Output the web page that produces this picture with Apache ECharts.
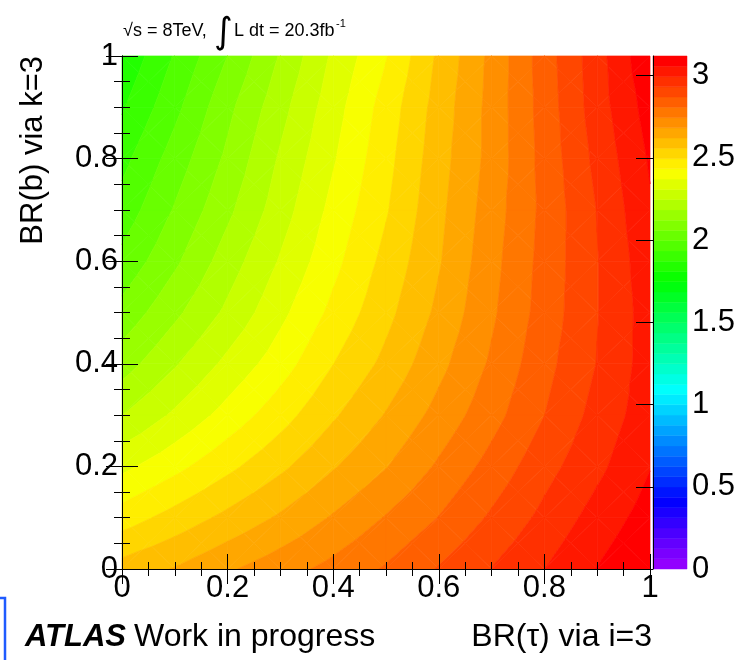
<!DOCTYPE html>
<html>
<head>
<meta charset="utf-8">
<script src="https://cdn.jsdelivr.net/npm/echarts@6/dist/echarts.min.js"></script>
<style>
  html, body { margin: 0; padding: 0; background: #ffffff; }
  #chart { width: 749px; height: 660px; }
</style>
</head>
<body>
<div id="chart"></div>
<script>
// Grid nodes of the scan: BR(tau) along x, BR(b) along y
const brTau = [0, 0.1, 0.2, 0.3, 0.4, 0.5, 0.6, 0.7, 0.8, 0.9, 1];
const brB   = [0, 0.1, 0.2, 0.3, 0.4, 0.5, 0.6, 0.7, 0.8, 0.9, 1];

// z value at each node, one row per BR(b) value (bottom row first)
const zRow00 = [2.585, 2.625, 2.675, 2.720, 2.765, 2.815, 2.875, 2.935, 2.995, 3.060, 3.120];
const zRow01 = [2.465, 2.520, 2.575, 2.630, 2.690, 2.750, 2.810, 2.880, 2.950, 3.020, 3.085];
const zRow02 = [2.355, 2.415, 2.480, 2.545, 2.615, 2.680, 2.755, 2.830, 2.910, 2.980, 3.055];
const zRow03 = [2.245, 2.320, 2.395, 2.470, 2.550, 2.625, 2.705, 2.785, 2.870, 2.955, 3.030];
const zRow04 = [2.155, 2.240, 2.325, 2.405, 2.495, 2.575, 2.665, 2.755, 2.850, 2.935, 3.025];
const zRow05 = [2.080, 2.170, 2.260, 2.355, 2.450, 2.540, 2.635, 2.735, 2.835, 2.930, 3.025];
const zRow06 = [2.015, 2.110, 2.215, 2.315, 2.415, 2.515, 2.615, 2.725, 2.830, 2.930, 3.035];
const zRow07 = [1.960, 2.065, 2.170, 2.280, 2.390, 2.490, 2.605, 2.715, 2.825, 2.935, 3.050];
const zRow08 = [1.915, 2.025, 2.135, 2.255, 2.365, 2.475, 2.595, 2.705, 2.830, 2.950, 3.065];
const zRow09 = [1.865, 1.980, 2.105, 2.225, 2.345, 2.460, 2.585, 2.705, 2.835, 2.965, 3.085];
const zRow10 = [1.820, 1.940, 2.060, 2.190, 2.320, 2.430, 2.570, 2.700, 2.840, 2.970, 3.110];
const zRows = [zRow00, zRow01, zRow02, zRow03, zRow04, zRow05, zRow06, zRow07, zRow08, zRow09, zRow10];

// Axis ticks
const axisTicks = [0, 0.2, 0.4, 0.6, 0.8, 1];
const paletteTicks = [0, 0.5, 1, 1.5, 2, 2.5, 3];
const zMax = 3.12;
const nContours = 50;

const FONT = "'Liberation Sans', Arial, Helvetica, sans-serif";
const dz = zMax / nContours;

// Rainbow palette: hue runs from violet down to red, full saturation
function paletteColor(band) {
  const b = Math.max(0, Math.min(nContours - 1, band));
  const hue = 280 - (b + 1) * 280 / nContours;
  const hp = hue / 60;
  const x = 1 - Math.abs((hp % 2) - 1);
  let r, g, bl;
  if (hp < 1) { r = 1; g = x; bl = 0; }
  else if (hp < 2) { r = x; g = 1; bl = 0; }
  else if (hp < 3) { r = 0; g = 1; bl = x; }
  else if (hp < 4) { r = 0; g = x; bl = 1; }
  else if (hp < 5) { r = x; g = 0; bl = 1; }
  else { r = 1; g = 0; bl = x; }
  return 'rgb(' + Math.round(r * 255) + ',' + Math.round(g * 255) + ',' + Math.round(bl * 255) + ')';
}

// Keep the part of a polygon where z is on one side of a level
function clipPoly(poly, level, keepAbove) {
  const out = [];
  const n = poly.length;
  for (let k = 0; k < n; k++) {
    const a = poly[k], b = poly[(k + 1) % n];
    const ina = keepAbove ? a[2] >= level : a[2] <= level;
    const inb = keepAbove ? b[2] >= level : b[2] <= level;
    if (ina) out.push(a);
    if (ina !== inb) {
      const t = (level - a[2]) / (b[2] - a[2]);
      out.push([a[0] + t * (b[0] - a[0]), a[1] + t * (b[1] - a[1]), level]);
    }
  }
  return out;
}

// One entry per grid cell
const cells = [];
for (let j = 0; j < brB.length - 1; j++) {
  for (let i = 0; i < brTau.length - 1; i++) {
    cells.push([(brTau[i] + brTau[i + 1]) / 2, (brB[j] + brB[j + 1]) / 2, i, j]);
  }
}

// Filled contour bands of one cell (split into four triangles around its centre)
function renderCell(params, api) {
  const i = api.value(2), j = api.value(3);
  const p00 = [brTau[i], brB[j], zRows[j][i]];
  const p10 = [brTau[i + 1], brB[j], zRows[j][i + 1]];
  const p11 = [brTau[i + 1], brB[j + 1], zRows[j + 1][i + 1]];
  const p01 = [brTau[i], brB[j + 1], zRows[j + 1][i]];
  const c = [(p00[0] + p10[0]) / 2, (p00[1] + p01[1]) / 2, (p00[2] + p10[2] + p11[2] + p01[2]) / 4];
  const tris = [[p00, p10, c], [p10, p11, c], [p11, p01, c], [p01, p00, c]];
  const children = [];
  tris.forEach(function (tri) {
    const zs = tri.map(function (p) { return p[2]; });
    const bLo = Math.max(0, Math.floor(Math.min.apply(null, zs) / dz));
    const bHi = Math.min(nContours - 1, Math.floor(Math.max.apply(null, zs) / dz));
    for (let b = bLo; b <= bHi; b++) {
      let poly = tri;
      if (b > 0) poly = clipPoly(poly, b * dz, true);
      if (poly.length >= 3 && b < nContours - 1) poly = clipPoly(poly, (b + 1) * dz, false);
      if (poly.length < 3) continue;
      const pts = poly.map(function (p) { return api.coord([p[0], p[1]]); });
      const col = paletteColor(b);
      children.push({
        type: 'polygon',
        shape: { points: pts },
        style: { fill: col, stroke: col, lineWidth: 0.7 }
      });
    }
  });
  return { type: 'group', children: children };
}

// Colour boxes of the palette axis
const paletteBands = [];
for (let b = 0; b < nContours; b++) paletteBands.push([0.5, (b + 0.5) * dz, b]);

function renderBand(params, api) {
  const b = api.value(2);
  const p0 = api.coord([0, b * dz]);
  const p1 = api.coord([1, (b + 1) * dz]);
  const col = paletteColor(b);
  return {
    type: 'rect',
    shape: { x: p0[0], y: p1[1], width: p1[0] - p0[0], height: p0[1] - p1[1] },
    style: { fill: col, stroke: col, lineWidth: 0.5 }
  };
}

const blackLine = { show: true, lineStyle: { color: '#000', width: 1 } };
const mainAxisBase = {
  type: 'value', min: 0, max: 1, interval: 0.2, gridIndex: 0, z: 10,
  axisLine: blackLine,
  splitLine: { show: false }
};

const chart = echarts.init(document.getElementById('chart'), null, { renderer: 'canvas' });
chart.setOption({
  animation: false,
  backgroundColor: '#ffffff',
  grid: [
    { left: 122, top: 56, width: 528, height: 513 },
    { left: 653, top: 56, width: 34, height: 513 }
  ],
  xAxis: [
    Object.assign({}, mainAxisBase, {
      position: 'bottom',
      axisTick: { show: true, inside: true, length: 15, customValues: axisTicks, lineStyle: { color: '#000' } },
      minorTick: { show: true, splitNumber: 4, length: 7, lineStyle: { color: '#000' } },
      axisLabel: { show: true, customValues: axisTicks, fontSize: 31, fontFamily: FONT, color: '#000', margin: 4 }
    }),
    Object.assign({}, mainAxisBase, {
      position: 'top',
      axisTick: { show: true, inside: true, length: 15, lineStyle: { color: '#000' } },
      minorTick: { show: true, splitNumber: 4, length: 7, lineStyle: { color: '#000' } },
      axisLabel: { show: false }
    }),
    { type: 'value', gridIndex: 1, min: 0, max: 1, show: false }
  ],
  yAxis: [
    Object.assign({}, mainAxisBase, {
      position: 'left',
      axisTick: { show: true, inside: true, length: 16, customValues: axisTicks, lineStyle: { color: '#000' } },
      minorTick: { show: true, splitNumber: 4, length: 8, lineStyle: { color: '#000' } },
      axisLabel: { show: true, customValues: axisTicks, fontSize: 31, fontFamily: FONT, color: '#000', margin: 4 }
    }),
    Object.assign({}, mainAxisBase, {
      position: 'right',
      axisTick: { show: true, inside: true, length: 16, lineStyle: { color: '#000' } },
      minorTick: { show: true, splitNumber: 4, length: 8, lineStyle: { color: '#000' } },
      axisLabel: { show: false }
    }),
    {
      type: 'value', gridIndex: 1, min: 0, max: zMax, interval: 0.5, position: 'right', z: 10,
      axisLine: blackLine,
      splitLine: { show: false },
      axisTick: { show: true, inside: true, length: 17, customValues: paletteTicks, lineStyle: { color: '#000' } },
      axisLabel: { show: true, customValues: paletteTicks, fontSize: 31, fontFamily: FONT, color: '#000', margin: 5 }
    }
  ],
  series: [
    {
      type: 'custom', name: 'contours', xAxisIndex: 0, yAxisIndex: 0,
      data: cells, encode: { x: 0, y: 1 }, renderItem: renderCell, silent: true, z: 2
    },
    {
      type: 'custom', name: 'palette', xAxisIndex: 2, yAxisIndex: 2,
      data: paletteBands, encode: { x: 0, y: 1 }, renderItem: renderBand, silent: true, z: 2
    }
  ],
  graphic: [
    { type: 'text', x: 123, y: 31, style: { text: '\u221As = 8TeV,', font: '18px ' + FONT, fill: '#000', textAlign: 'left', textVerticalAlign: 'middle' } },
    { type: 'text', x: 214, y: 34, style: { text: '\u222B', font: '36px "DejaVu Sans"', fill: '#000', textAlign: 'left', textVerticalAlign: 'middle' } },
    { type: 'text', x: 234, y: 31, style: { text: 'L dt = 20.3fb', font: '18px ' + FONT, fill: '#000', textAlign: 'left', textVerticalAlign: 'middle' } },
    { type: 'text', x: 336, y: 24, style: { text: '-1', font: '11px ' + FONT, fill: '#000', textAlign: 'left', textVerticalAlign: 'middle' } },
    { type: 'text', x: 33, y: 56, rotation: Math.PI / 2, style: { text: 'BR(b) via k=3', font: '31px ' + FONT, fill: '#000', textAlign: 'right', textVerticalAlign: 'middle' } },
    { type: 'text', x: 652, y: 637, style: { text: 'BR(\u03C4) via i=3', font: '32px ' + FONT, fill: '#000', textAlign: 'right', textVerticalAlign: 'middle' } },
    { type: 'text', x: 25, y: 637, style: { text: 'ATLAS', font: 'italic bold 31px ' + FONT, fill: '#000', textAlign: 'left', textVerticalAlign: 'middle' } },
    { type: 'text', x: 134, y: 637, style: { text: 'Work in progress', font: '32px ' + FONT, fill: '#000', textAlign: 'left', textVerticalAlign: 'middle' } },
    { type: 'polyline', shape: { points: [[0, 598], [5, 598], [5, 660]] }, style: { stroke: '#1f5bff', lineWidth: 2.5, fill: null } }
  ]
});
</script>
</body>
</html>
